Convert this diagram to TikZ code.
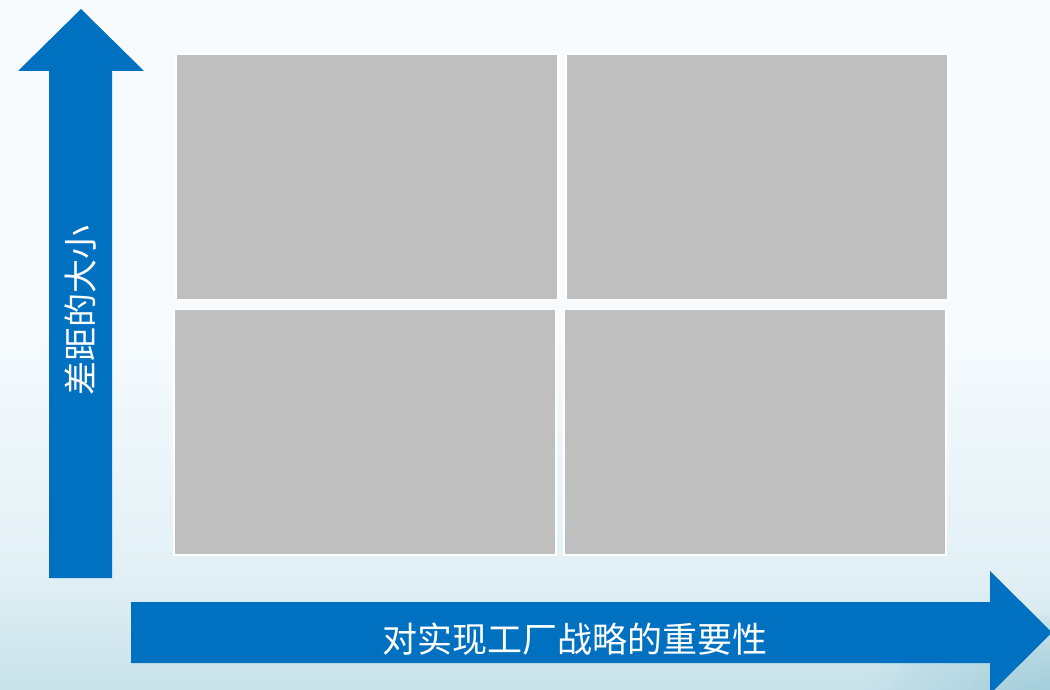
\documentclass[tikz,border=0pt]{standalone}
\usepackage{fontspec}
\newfontfamily\cjk{Noto Sans CJK SC}
\usetikzlibrary{fadings}
\definecolor{arrowblue}{HTML}{0070C0}
\definecolor{boxgrey}{HTML}{BFBFBF}
\definecolor{bgtop}{HTML}{F7FBFE}
\definecolor{bgmid}{HTML}{E2F0F5}
\definecolor{bgbot}{HTML}{C8E2EA}
\definecolor{bgcorner}{HTML}{8EC2D1}
\tikzset{
  cell/.style={fill=boxgrey, draw=white, line width=2pt, minimum width=382pt, minimum height=246pt, inner sep=0pt, anchor=north west},
  bigarrow/.style={fill=arrowblue, draw=none},
  hlabelstyle/.style={text=white, font=\cjk\fontsize{35}{37}\selectfont, inner sep=0pt},
  vlabelstyle/.style={text=white, font=\cjk\fontsize{34}{36}\selectfont, inner sep=0pt}
}
\begin{document}
\begin{tikzpicture}[x=1pt,y=-1pt]
\useasboundingbox (0,0) rectangle (1050,690);
% background
\fill[bgtop] (0,0) rectangle (1050,690);
\shade[top color=bgtop, bottom color=bgmid] (0,330) rectangle (1050,570);
\shade[top color=bgmid, bottom color=bgbot] (0,570) rectangle (1050,690);
\begin{scope}
\clip (0,0) rectangle (1050,690);
\shade[inner color=bgcorner, outer color=bgbot, opacity=0.7, path fading=circle with fuzzy edge 15 percent] (1060,700) ellipse (200 and 90);
\end{scope}
% cells
\node[cell] (tl) at (175,53) {};
\node[cell] (tr) at (565,53) {};
\node[cell] (bl) at (173,308) {};
\node[cell] (br) at (563,308) {};
% vertical arrow
\fill[bigarrow] (49,578) -- (49,71) -- (18,71) -- (81,9) -- (144,71) -- (112,71) -- (112,578) -- cycle;
\node[vlabelstyle, rotate=90] (vlabel) at (81,310) {差距的大小};
% horizontal arrow
\fill[bigarrow] (131,602) -- (990,602) -- (990,571) -- (1052,632.5) -- (990,694) -- (990,663) -- (131,663) -- cycle;
\node[hlabelstyle] (hlabel) at (575,639) {对实现工厂战略的重要性};
\end{tikzpicture}
\end{document}
